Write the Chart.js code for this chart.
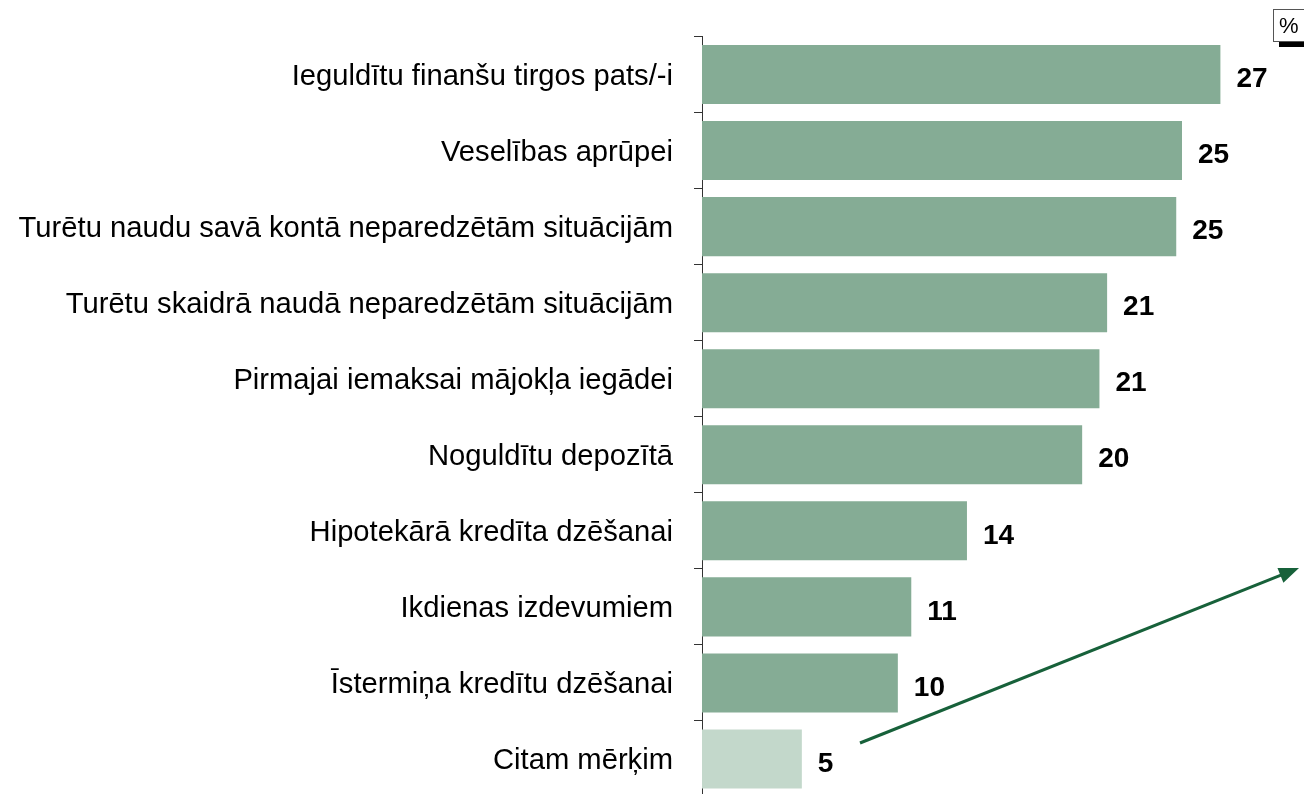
<!DOCTYPE html>
<html>
<head>
<meta charset="utf-8">
<script src="https://cdn.jsdelivr.net/npm/chart.js@4"></script>
<style>
  html, body { margin: 0; padding: 0; background: #fff; overflow: hidden; }
  #wrap { width: 1304px; height: 797px; }
</style>
</head>
<body>
<div id="wrap"><canvas id="barChart" width="1304" height="797"></canvas></div>
<script>
var categories = [
    'Ieguldītu finanšu tirgos pats/-i',
    'Veselības aprūpei',
    'Turētu naudu savā kontā neparedzētām situācijām',
    'Turētu skaidrā naudā neparedzētām situācijām',
    'Pirmajai iemaksai mājokļa iegādei',
    'Noguldītu depozītā',
    'Hipotekārā kredīta dzēšanai',
    'Ikdienas izdevumiem',
    'Īstermiņa kredītu dzēšanai',
    'Citam mērķim'
];
var values = [27.0, 25.0, 24.7, 21.1, 20.7, 19.8, 13.8, 10.9, 10.2, 5.2];
var valueLabels = ['27', '25', '25', '21', '21', '20', '14', '11', '10', '5'];

var barColors = values.map((v, i) => i === values.length - 1 ? '#c3d8cb' : '#85ac95');

// value labels next to bars + "%" box + arrow
const extras = {
    id: 'extras',
    afterDatasetsDraw(chart) {
        const ctx = chart.ctx;
        const meta = chart.getDatasetMeta(0);
        ctx.save();
        ctx.fillStyle = '#000';
        ctx.font = 'bold 28px "Liberation Sans", Arial, sans-serif';
        ctx.textAlign = 'left';
        ctx.textBaseline = 'middle';
        meta.data.forEach((bar, i) => {
            ctx.fillText(valueLabels[i], bar.x + 16, bar.y + 5);
        });

        // % box
        ctx.fillStyle = '#000';
        ctx.fillRect(1279, 41, 25, 6);
        ctx.fillStyle = '#fff';
        ctx.fillRect(1273, 9, 31, 33);
        ctx.strokeStyle = '#555';
        ctx.lineWidth = 1;
        ctx.strokeRect(1273.5, 9.5, 31, 32);
        ctx.fillStyle = '#000';
        ctx.font = '22px "Liberation Sans", Arial, sans-serif';
        ctx.textAlign = 'left';
        ctx.fillText('%', 1279, 27);

        // arrow
        const x0 = 860, y0 = 743, x1 = 1299, y1 = 568;
        const ang = Math.atan2(y1 - y0, x1 - x0);
        ctx.strokeStyle = '#17613a';
        ctx.fillStyle = '#17613a';
        ctx.lineWidth = 3;
        ctx.beginPath();
        ctx.moveTo(x0, y0);
        ctx.lineTo(x1 - 14 * Math.cos(ang), y1 - 14 * Math.sin(ang));
        ctx.stroke();
        ctx.beginPath();
        ctx.moveTo(x1, y1);
        ctx.lineTo(x1 - 20 * Math.cos(ang) + 8 * Math.sin(ang), y1 - 20 * Math.sin(ang) - 8 * Math.cos(ang));
        ctx.lineTo(x1 - 20 * Math.cos(ang) - 8 * Math.sin(ang), y1 - 20 * Math.sin(ang) + 8 * Math.cos(ang));
        ctx.closePath();
        ctx.fill();
        ctx.restore();
    }
};

const chartEl = document.getElementById('barChart');

let barChart = new Chart(chartEl, {
    type: 'bar',
    data: {
        labels: categories,
        datasets: [
            {
                data: values,
                backgroundColor: barColors,
                borderWidth: 0,
                categoryPercentage: 1,
                barPercentage: 0.776
            }
        ]
    },
    options: {
        indexAxis: 'y',
        responsive: false,
        animation: false,
        layout: { padding: { top: 36.5, right: 26, bottom: 0, left: 0 } },
        plugins: {
            legend: { display: false },
            tooltip: { enabled: false }
        },
        scales: {
            x: {
                display: false,
                min: 0,
                max: 30
            },
            y: {
                afterFit: (scale) => {
                    scale.width = 702;
                    scale.paddingTop = 0;
                    scale.paddingBottom = 0;
                },
                border: { display: true, color: '#333', width: 1 },
                grid: {
                    offset: true,
                    drawOnChartArea: false,
                    drawTicks: true,
                    tickLength: 8,
                    tickColor: '#333',
                    lineWidth: 1
                },
                ticks: {
                    color: '#000',
                    padding: 21,
                    labelOffset: 2,
                    font: { family: '"Liberation Sans", Arial, sans-serif', size: 29.2 }
                }
            }
        }
    },
    plugins: [extras]
});
</script>
</body>
</html>
